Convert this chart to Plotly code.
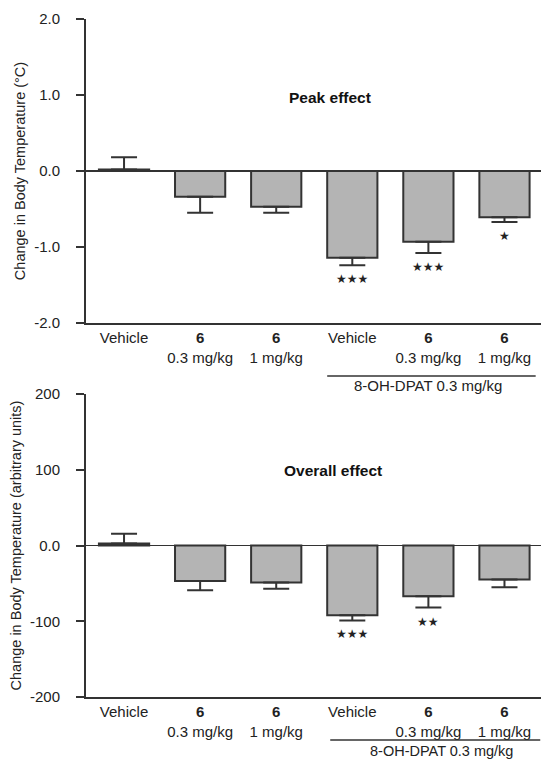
import plotly.graph_objects as go

# ---- data ----
categories = ["Vehicle", "6 0.3", "6 1", "DPAT Vehicle", "DPAT 6 0.3", "DPAT 6 1"]
tick_labels = ["Vehicle", "<b>6</b><br>0.3 mg/kg", "<b>6</b><br>1 mg/kg",
               "Vehicle", "<b>6</b><br>0.3 mg/kg", "<b>6</b><br>1 mg/kg"]

peak_values = [0.02, -0.34, -0.47, -1.14, -0.93, -0.61]
peak_sem = [0.16, 0.21, 0.08, 0.10, 0.15, 0.06]
peak_sig = ["", "", "", "★★★", "★★★", "★"]

overall_values = [2.5, -47, -49, -92, -67, -45]
overall_sem = [13, 12, 8, 7, 15, 10]
overall_sig = ["", "", "", "★★★", "★★", ""]

peak_ticks = [2.0, 1.0, 0.0, -1.0, -2.0]
peak_ticktext = ["2.0", "1.0", "0.0", "-1.0", "-2.0"]
overall_ticks = [200, 100, 0, -100, -200]
overall_ticktext = ["200", "100", "0.0", "-100", "-200"]

group_label = "8-OH-DPAT 0.3 mg/kg"

# ---- figure ----
W, H = 542, 761
FONT = "Liberation Sans, Arial, sans-serif"
DARK = "#333333"
FILL = "#b4b4b4"

xpos = list(range(len(categories)))


def err_arrays(vals, sem):
    up = [s if v >= 0 else 0 for v, s in zip(vals, sem)]
    dn = [s if v < 0 else 0 for v, s in zip(vals, sem)]
    return up, dn


def px_x(p):
    return p / W


def px_y(p):
    return (H - p) / H


fig = go.Figure()

for vals, sem, xa, ya in [(peak_values, peak_sem, "x", "y"),
                          (overall_values, overall_sem, "x2", "y2")]:
    up, dn = err_arrays(vals, sem)
    fig.add_trace(go.Bar(
        x=xpos, y=vals, xaxis=xa, yaxis=ya, width=0.66,
        marker=dict(color=FILL, line=dict(color=DARK, width=2)),
        error_y=dict(type="data", symmetric=False, array=up, arrayminus=dn,
                     color=DARK, thickness=2, width=13),
        showlegend=False, hoverinfo="skip",
    ))

xdom = [px_x(86), px_x(541)]
top_dom = [px_y(323), px_y(19)]
bot_dom = [px_y(697), px_y(394)]

axis_common = dict(showline=True, linecolor=DARK, linewidth=2, showgrid=False)
xtick_font = dict(size=15)

fig.update_layout(
    width=W, height=H,
    margin=dict(l=0, r=0, t=0, b=0, autoexpand=False),
    paper_bgcolor="white", plot_bgcolor="white",
    font=dict(family=FONT, size=15, color="#222222"),
    xaxis=dict(domain=xdom, anchor="y", range=[-0.5, 5.48], tickvals=xpos,
               ticktext=tick_labels, ticks="", zeroline=False,
               tickfont=xtick_font, **axis_common),
    yaxis=dict(domain=top_dom, anchor="x", range=[-2, 2], tickvals=peak_ticks,
               ticktext=peak_ticktext, ticks="outside", ticklen=8, tickwidth=2,
               tickcolor=DARK, ticklabelstandoff=13,
               zeroline=True, zerolinecolor=DARK, zerolinewidth=1.5,
               title=dict(text="Change in Body Temperature (°C)", standoff=5,
                          font=dict(size=14.5)),
               **axis_common),
    xaxis2=dict(domain=xdom, anchor="y2", range=[-0.5, 5.48], tickvals=xpos,
                ticktext=tick_labels, ticks="", zeroline=False,
                tickfont=xtick_font, **axis_common),
    yaxis2=dict(domain=bot_dom, anchor="x2", range=[-200, 200], tickvals=overall_ticks,
                ticktext=overall_ticktext, ticks="outside", ticklen=8, tickwidth=2,
                tickcolor=DARK, ticklabelstandoff=13,
                zeroline=True, zerolinecolor=DARK, zerolinewidth=1.5,
                title=dict(text="Change in Body Temperature (arbitrary units)", standoff=5,
                           font=dict(size=14.5)),
                **axis_common),
)

annotations = []
# significance stars
for vals, sem, sig, xa, ya in [(peak_values, peak_sem, peak_sig, "x", "y"),
                               (overall_values, overall_sem, overall_sig, "x2", "y2")]:
    for i, (v, s, t) in enumerate(zip(vals, sem, sig)):
        if t:
            annotations.append(dict(x=i, y=v - s, xref=xa, yref=ya, text=t,
                                    showarrow=False, yshift=-14, yanchor="middle",
                                    font=dict(family="DejaVu Sans", size=12, color="#222222")))

# panel titles
annotations.append(dict(x=px_x(330), y=px_y(97), xref="paper", yref="paper",
                        xanchor="center", yanchor="middle",
                        text="<b>Peak effect</b>", showarrow=False,
                        font=dict(size=15.5, color="#111111")))
annotations.append(dict(x=px_x(333), y=px_y(470), xref="paper", yref="paper",
                        xanchor="center", yanchor="middle",
                        text="<b>Overall effect</b>", showarrow=False,
                        font=dict(size=15.5, color="#111111")))

# group labels
annotations.append(dict(x=4.0, y=px_y(385), xref="x", yref="paper", text=group_label,
                        xanchor="center", yanchor="middle",
                        showarrow=False, font=dict(size=15)))
annotations.append(dict(x=4.17, y=px_y(751), xref="x2", yref="paper", text=group_label,
                        xanchor="center", yanchor="middle",
                        showarrow=False, font=dict(size=14.5)))

shapes = [
    dict(type="line", xref="x", yref="paper", x0=2.67, x1=5.41,
         y0=px_y(376), y1=px_y(376), line=dict(color=DARK, width=1.5)),
    dict(type="line", xref="x2", yref="paper", x0=2.71, x1=5.47,
         y0=px_y(740), y1=px_y(740), line=dict(color=DARK, width=1.5)),
]

fig.update_layout(annotations=annotations, shapes=shapes)

# the page body's default 8px margin would push the figure outside the window
fig.write_html("out.html",
               config={"displayModeBar": False, "staticPlot": True},
               post_script="document.body.style.margin='0';"
                           "document.body.style.overflow='hidden';")
